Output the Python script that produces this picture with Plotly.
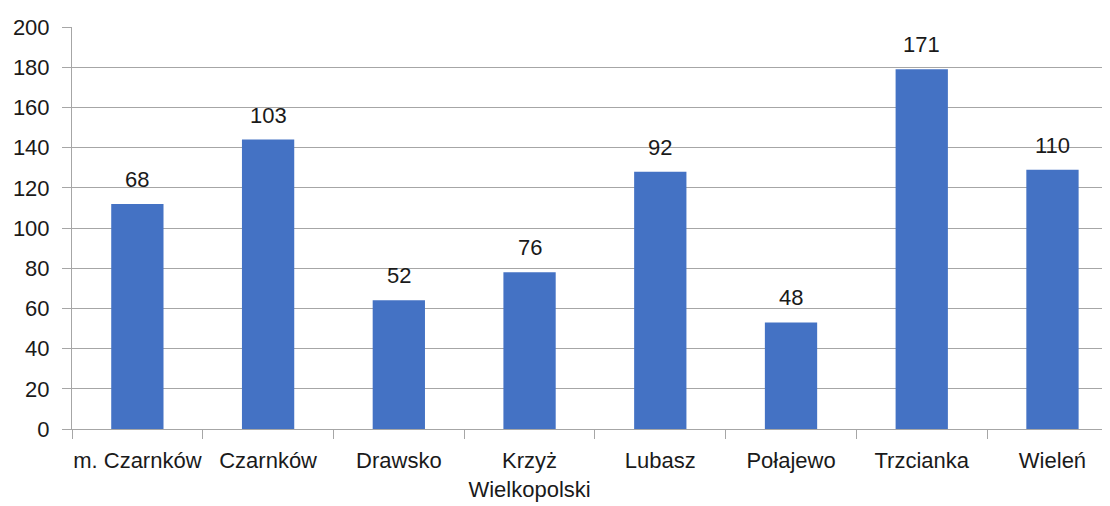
import plotly.graph_objects as go

gminy = ["m. Czarnków", "Czarnków", "Drawsko", "Krzyż<br>Wielkopolski",
         "Lubasz", "Połajewo", "Trzcianka", "Wieleń"]
wysokosc = [112, 144, 64, 78, 128, 53, 179, 129]
etykiety = ["68", "103", "52", "76", "92", "48", "171", "110"]
y_ticks = [0, 20, 40, 60, 80, 100, 120, 140, 160, 180, 200]

font_name = "Liberation Sans, Arial, sans-serif"
grid_col = "#A6A6A6"

fig = go.Figure(go.Bar(
    x=gminy,
    y=wysokosc,
    marker=dict(color="#4472C4", line=dict(width=0)),
    width=0.4,
    hoverinfo="skip",
))

# labels above bars
for g, h, t in zip(gminy, wysokosc, etykiety):
    fig.add_annotation(x=g, y=h, text=t, showarrow=False,
                       yanchor="bottom", yshift=10,
                       font=dict(family=font_name, size=22, color="#1a1a1a"))

# page body adds 8px margin, so the figure is a bit smaller
fig.update_layout(
    width=1102, height=498,
    margin=dict(l=64, r=0, t=19, b=77, autoexpand=False),
    paper_bgcolor="white", plot_bgcolor="white",
    showlegend=False,
    font=dict(family=font_name, size=22, color="#1a1a1a"),
)
fig.update_xaxes(
    range=[-0.5, 7.44],
    showgrid=False, automargin=False, tickangle=0,
    showline=True, linecolor=grid_col, linewidth=1,
    ticks="outside", tickson="boundaries", ticklen=9, tickcolor=grid_col,
    ticklabelstandoff=12,
)
fig.update_yaxes(
    range=[0, 200], tickvals=y_ticks, automargin=False,
    showgrid=True, gridcolor=grid_col, gridwidth=1,
    showline=True, linecolor=grid_col, linewidth=1,
    ticks="outside", ticklen=9, tickcolor=grid_col,
    ticklabelstandoff=8, zeroline=False,
)

fig.write_html("out.html")
